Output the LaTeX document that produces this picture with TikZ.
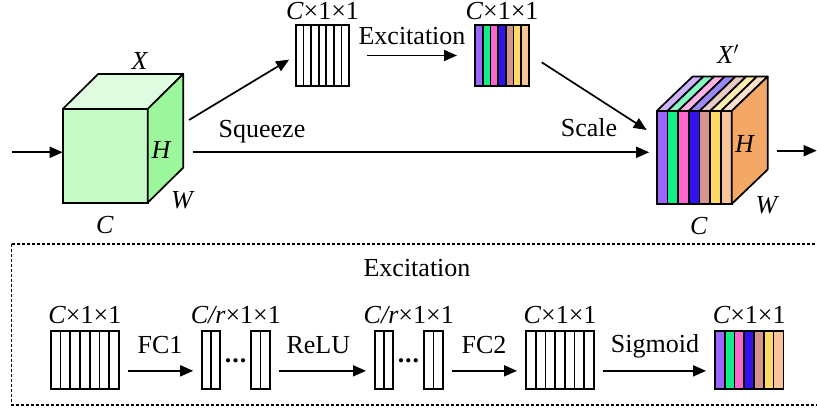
\documentclass[tikz,border=0pt]{standalone}
\usepackage{fontspec}
\setmainfont{Liberation Serif}
\newfontfamily\serifa{Liberation Serif}
\usetikzlibrary{arrows.meta,calc}

\definecolor{verdeFrente}{HTML}{C8FAC8}
\definecolor{verdeTopo}{HTML}{E0FCE0}
\definecolor{verdeLado}{HTML}{9CF79C}
\definecolor{laranja}{HTML}{F3A866}
\definecolor{roxo}{HTML}{9966FF}
\definecolor{verdeAgua}{HTML}{11EE88}
\definecolor{rosa}{HTML}{FF66CC}
\definecolor{azul}{HTML}{3311EE}
\definecolor{salmao}{HTML}{D4958A}
\definecolor{amarelo}{HTML}{FFD966}
\definecolor{pessego}{HTML}{F8C49A}

\begin{document}
\begin{tikzpicture}[
		x=1pt, y=-1pt,
		font=\serifa\fontsize{26}{30}\selectfont,
		caixa/.style={
			draw,
			rectangle,
			line width=1.7pt,
			inner sep=0pt,
			outer sep=0pt,
			fill=white
		},
		fita/.style={draw, line width=1.7pt, line join=round},
		seta/.style={-{Triangle[length=13pt,width=11pt]}, line width=1.7pt},
		texto/.style={anchor=base, inner sep=0pt},
		tracejado/.style={line width=1.5pt, dash pattern=on 3pt off 2pt}
		]
		
		\useasboundingbox (0,0) rectangle (817,411);
		
		%Cubo de entrada
		\node[caixa, fill=verdeFrente, minimum width=85pt, minimum height=93.7pt] (X) at (105.2,155.85) {};
		\draw[fita, fill=verdeTopo] (X.north west) -- ++(35.5,-35) -- ++(85,0) -- (X.north east) -- cycle;
		\draw[fita, fill=verdeLado] (X.north east) -- ++(35.5,-35) -- ++(0,93.7) -- (X.south east) -- cycle;
		\node[texto] (lX) at (140,69.3) {\textit{X}};
		\node[texto] (lH1) at (161.5,158.3) {\textit{H}};
		\node[texto] (lW1) at (183,208.3) {\textit{W}};
		\node[texto] (lC1) at (105,233.3) {\textit{C}};
		
		%Vetores de cima
		\node[caixa, minimum width=53pt, minimum height=61pt] (vet1) at (322.5,55.5) {};
		\foreach \a in {1,...,6}
			\draw[fita] ($(vet1.north west)!\a/7!(vet1.north east)$) -- ($(vet1.south west)!\a/7!(vet1.south east)$);
		\node[caixa, minimum width=54pt, minimum height=61pt] (vet2) at (502,55.5) {};
		\foreach \cor/\a/\b in {roxo/0/1, verdeAgua/1/2, rosa/2/3, azul/3/4, salmao/4/5, amarelo/5/6, pessego/6/7}
			\draw[fita, fill=\cor] ($(vet2.north west)!\a/7!(vet2.north east)$) rectangle ($(vet2.south west)!\b/7!(vet2.south east)$);
		\node[texto] (lvet1) at (322.5,20) {\textit{C}×1×1};
		\node[texto] (lvet2) at (502,20) {\textit{C}×1×1};
		
		%Cubo de saida
		\node[caixa, minimum width=75pt, minimum height=93pt] (Y) at (694.2,157.5) {};
		\foreach \cor/\a/\b in {roxo/0/1, verdeAgua/1/2, rosa/2/3, azul/3/4, salmao/4/5, amarelo/5/6, pessego/6/7}{
			\draw[fita, fill=\cor] ($(Y.north west)!\a/7!(Y.north east)$) rectangle ($(Y.south west)!\b/7!(Y.south east)$);
			\draw[fita, fill=\cor!50!white] ($(Y.north west)!\a/7!(Y.north east)$) -- ++(36,-34.5) -- ++(10.714,0) -- ++(-36,34.5) -- cycle;
		}
		\draw[fita, fill=laranja] (Y.north east) -- ++(36,-34.5) -- ++(0,93) -- (Y.south east) -- cycle;
		\node[texto] (lX2) at (728,63.3) {\textit{X}$'$};
		\node[texto] (lH2) at (745,152.7) {\textit{H}};
		\node[texto] (lW2) at (767.5,213.3) {\textit{W}};
		\node[texto] (lC2) at (699,235) {\textit{C}};
		
		%Linhas
		\coordinate (entI) at (11.7,152.3);
		\coordinate (exI) at (189,120);
		\coordinate (sqI) at (192.7,152.3);
		\coordinate (scI) at (541.7,62.3);
		\coordinate (scF) at (646.7,130);
		\coordinate (saiI) at (776.7,150.7);
		\coordinate (saiF) at (816.7,150.7);
		\draw[seta] (entI) -- (X.west |- entI);
		\draw[seta, shorten >=8pt] (exI) -- (vet1.west);
		\draw[seta, shorten <=18pt, shorten >=18pt] (vet1) -- (vet2);
		\draw[seta] (scI) -- (scF);
		\draw[seta, shorten >=7.5pt] (sqI) -- (Y.west |- sqI);
		\draw[seta] (saiI) -- (saiF);
		\node[texto] (lexc) at (412,45) {Excitation};
		\node[texto] (lsq) at (262,137.3) {Squeeze};
		\node[texto] (lsc) at (589,136.7) {Scale};
		
		%Detalhe da excitacao
		\draw[tracejado] (11.7,244) rectangle (830,405);
		\node[texto] (ltit) at (417,276.7) {Excitation};
		
		\node[caixa, minimum width=68.3pt, minimum height=58.3pt] (A) at (84.85,359.85) {};
		\node[caixa, minimum width=18pt, minimum height=58.3pt] (B1) at (211.2,359.85) {};
		\node[caixa, minimum width=19pt, minimum height=58.3pt] (B2) at (260.4,359.85) {};
		\node[caixa, minimum width=18pt, minimum height=58.3pt] (C1) at (384,359.85) {};
		\node[caixa, minimum width=19pt, minimum height=58.3pt] (C2) at (433.5,359.85) {};
		\node[caixa, minimum width=68pt, minimum height=58.3pt] (D) at (560,359.85) {};
		\node[caixa, minimum width=68.3pt, minimum height=58.3pt] (E) at (749.2,359.85) {};
		\foreach \n in {A,D}
			\foreach \a in {1,...,6}
				\draw[fita] ($(\n.north west)!\a/7!(\n.north east)$) -- ($(\n.south west)!\a/7!(\n.south east)$);
		\foreach \n in {B1,B2,C1,C2}
			\draw[fita] (\n.north) -- (\n.south);
		\foreach \cor/\a/\b in {roxo/0/1, verdeAgua/1/2, rosa/2/3, azul/3/4, salmao/4/5, amarelo/5/6, pessego/6/7}
			\draw[fita, fill=\cor] ($(E.north west)!\a/7!(E.north east)$) rectangle ($(E.south west)!\b/7!(E.south east)$);
		\node[anchor=base, inner sep=0pt] (pts1) at ($(B1.east)!0.5!(B2.west)+(0,2.5)$) {\textbf{.\kern1pt.\kern1pt.}};
		\node[anchor=base, inner sep=0pt] (pts2) at ($(C1.east)!0.5!(C2.west)+(0,2.5)$) {\textbf{.\kern1pt.\kern1pt.}};
		
		\node[texto] (lA) at (84.85,323.3) {\textit{C}×1×1};
		\node[texto] (lB) at ($(B1.north)!0.5!(B2.north)+(0,-7.4)$) {\textit{C/r}×1×1};
		\node[texto] (lC) at ($(C1.north)!0.5!(C2.north)+(0,-7.4)$) {\textit{C/r}×1×1};
		\node[texto] (lD) at (560,323.3) {\textit{C}×1×1};
		\node[texto] (lE) at (749.2,323.3) {\textit{C}×1×1};
		
		\draw[seta, shorten <=9pt, shorten >=9pt] ([yshift=-11pt]A.east) -- ([yshift=-11pt]B1.west);
		\draw[seta, shorten <=9pt, shorten >=9pt] ([yshift=-11pt]B2.east) -- ([yshift=-11pt]C1.west);
		\draw[seta, shorten <=9pt, shorten >=9pt] ([yshift=-11pt]C2.east) -- ([yshift=-11pt]D.west);
		\draw[seta, shorten <=9pt, shorten >=9pt] ([yshift=-11pt]D.east) -- ([yshift=-11pt]E.west);
		\node[texto] (lfc1) at (160,354) {FC1};
		\node[texto] (lrelu) at (318.3,354) {ReLU};
		\node[texto] (lfc2) at (484,353.3) {FC2};
		\node[texto] (lsig) at (655,352.5) {Sigmoid};
		
	\end{tikzpicture}
\end{document}
